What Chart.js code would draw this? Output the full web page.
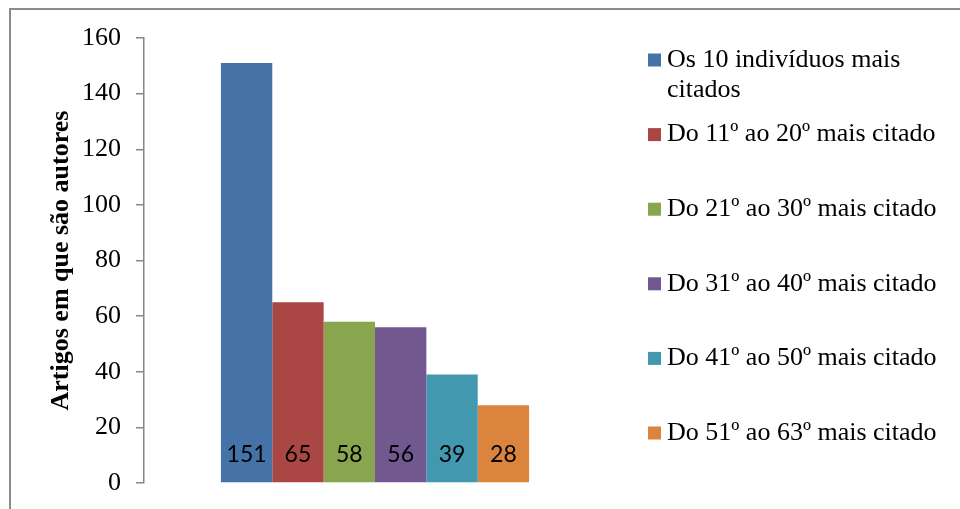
<!DOCTYPE html>
<html>
<head>
<meta charset="utf-8">
<script src="https://cdn.jsdelivr.net/npm/chart.js@4.4.1/dist/chart.umd.min.js"></script>
<style>
    html, body { margin: 0; padding: 0; background: #fff; }
    #wrap {
        position: relative;
        width: 960px;
        height: 509px;
        overflow: hidden;
    }
    #frame {
        position: absolute;
        left: 9px;
        top: 8px;
        width: 1000px;
        height: 600px;
        border-left: 2px solid #8c8c8c;
        border-top: 2px solid #8c8c8c;
    }
    canvas { position: absolute; left: 0; top: 0; }
</style>
</head>
<body>
<div id="wrap">
    <div id="frame"></div>
    <canvas id="chart" width="960" height="509"></canvas>
</div>
<script>
// --- Data ---
const categories = [''];
const seriesLabels = [
    'Os 10 indivíduos mais citados',
    'Do 11º ao 20º mais citado',
    'Do 21º ao 30º mais citado',
    'Do 31º ao 40º mais citado',
    'Do 41º ao 50º mais citado',
    'Do 51º ao 63º mais citado'
];
const seriesValues = [151, 65, 58, 56, 39, 28];
const yTicks = [0, 20, 40, 60, 80, 100, 120, 140, 160];

const SERIES_COLORS = ['#4572A7', '#AA4643', '#89A54E', '#71588F', '#4198AF', '#DB843D'];
const SERIF = '"Liberation Serif", "Times New Roman", serif';
const AXIS_GRAY = '#868686';

// --- value labels sitting at the foot of each bar ---
const barFootLabels = {
    id: 'barFootLabels',
    afterDatasetsDraw(chart) {
        const ctx = chart.ctx;
        const base = chart.scales.y.getPixelForValue(0);
        ctx.save();
        ctx.font = '23px Lato, "Open Sans", sans-serif';
        ctx.fillStyle = '#000';
        ctx.textAlign = 'center';
        ctx.textBaseline = 'middle';
        chart.data.datasets.forEach((ds, i) => {
            const meta = chart.getDatasetMeta(i);
            meta.data.forEach((bar, j) => {
                ctx.fillText(String(ds.data[j]), bar.x, base - 28);
            });
        });
        ctx.restore();
    }
};

// --- right-hand legend, wraps long labels like the original ---
const sideLegend = {
    id: 'sideLegend',
    afterDraw(chart) {
        const ctx = chart.ctx;
        const boxX = 648, textX = 667, maxW = 280;
        const firstY = 60, step = 74.6, lineH = 30, box = 13;
        ctx.save();
        ctx.font = '26px ' + SERIF;
        ctx.textBaseline = 'middle';
        ctx.textAlign = 'left';
        chart.data.datasets.forEach((ds, i) => {
            const y = firstY + i * step;
            ctx.fillStyle = ds.backgroundColor;
            ctx.fillRect(boxX, y - box / 2, box, box);

            // simple word wrap
            const words = ds.label.split(' ');
            const lines = [];
            let line = '';
            words.forEach(w => {
                const test = line ? line + ' ' + w : w;
                if (ctx.measureText(test).width > maxW && line) {
                    lines.push(line);
                    line = w;
                } else {
                    line = test;
                }
            });
            lines.push(line);

            ctx.fillStyle = '#000';
            lines.forEach((l, k) => ctx.fillText(l, textX, y + k * lineH));
        });
        ctx.restore();
    }
};

const datasets = seriesLabels.map((label, i) => ({
    label: label,
    data: [seriesValues[i]],
    backgroundColor: SERIES_COLORS[i],
    borderWidth: 0,
    categoryPercentage: 0.667,
    barPercentage: 1.0
}));

new Chart(document.getElementById('chart'), {
    type: 'bar',
    data: { labels: categories, datasets: datasets },
    options: {
        responsive: false,
        animation: false,
        devicePixelRatio: 1,
        layout: { padding: { left: 0, right: 354, top: 38, bottom: 26 } },
        plugins: {
            legend: { display: false },
            tooltip: { enabled: false }
        },
        scales: {
            x: { display: false },
            y: {
                min: 0,
                max: 160,
                afterFit(scale) {
                    scale.width = 144;
                    // the "0" label overhangs into the padding; don't let it push the plot up
                    scale.paddingBottom = 0;
                    scale.paddingTop = 0;
                },
                afterBuildTicks(scale) { scale.ticks = yTicks.map(v => ({ value: v })); },
                border: { display: true, color: AXIS_GRAY, width: 1.5 },
                grid: {
                    drawOnChartArea: false,
                    drawTicks: true,
                    tickLength: 8,
                    color: AXIS_GRAY,
                    lineWidth: 1.5
                },
                ticks: {
                    color: '#000',
                    padding: 15,
                    font: { family: SERIF, size: 26 }
                },
                title: {
                    display: true,
                    text: 'Artigos em que são autores',
                    color: '#000',
                    padding: { top: 46, bottom: 0 },
                    font: { family: SERIF, size: 26, weight: 'bold' }
                }
            }
        }
    },
    plugins: [barFootLabels, sideLegend]
});
</script>
</body>
</html>
